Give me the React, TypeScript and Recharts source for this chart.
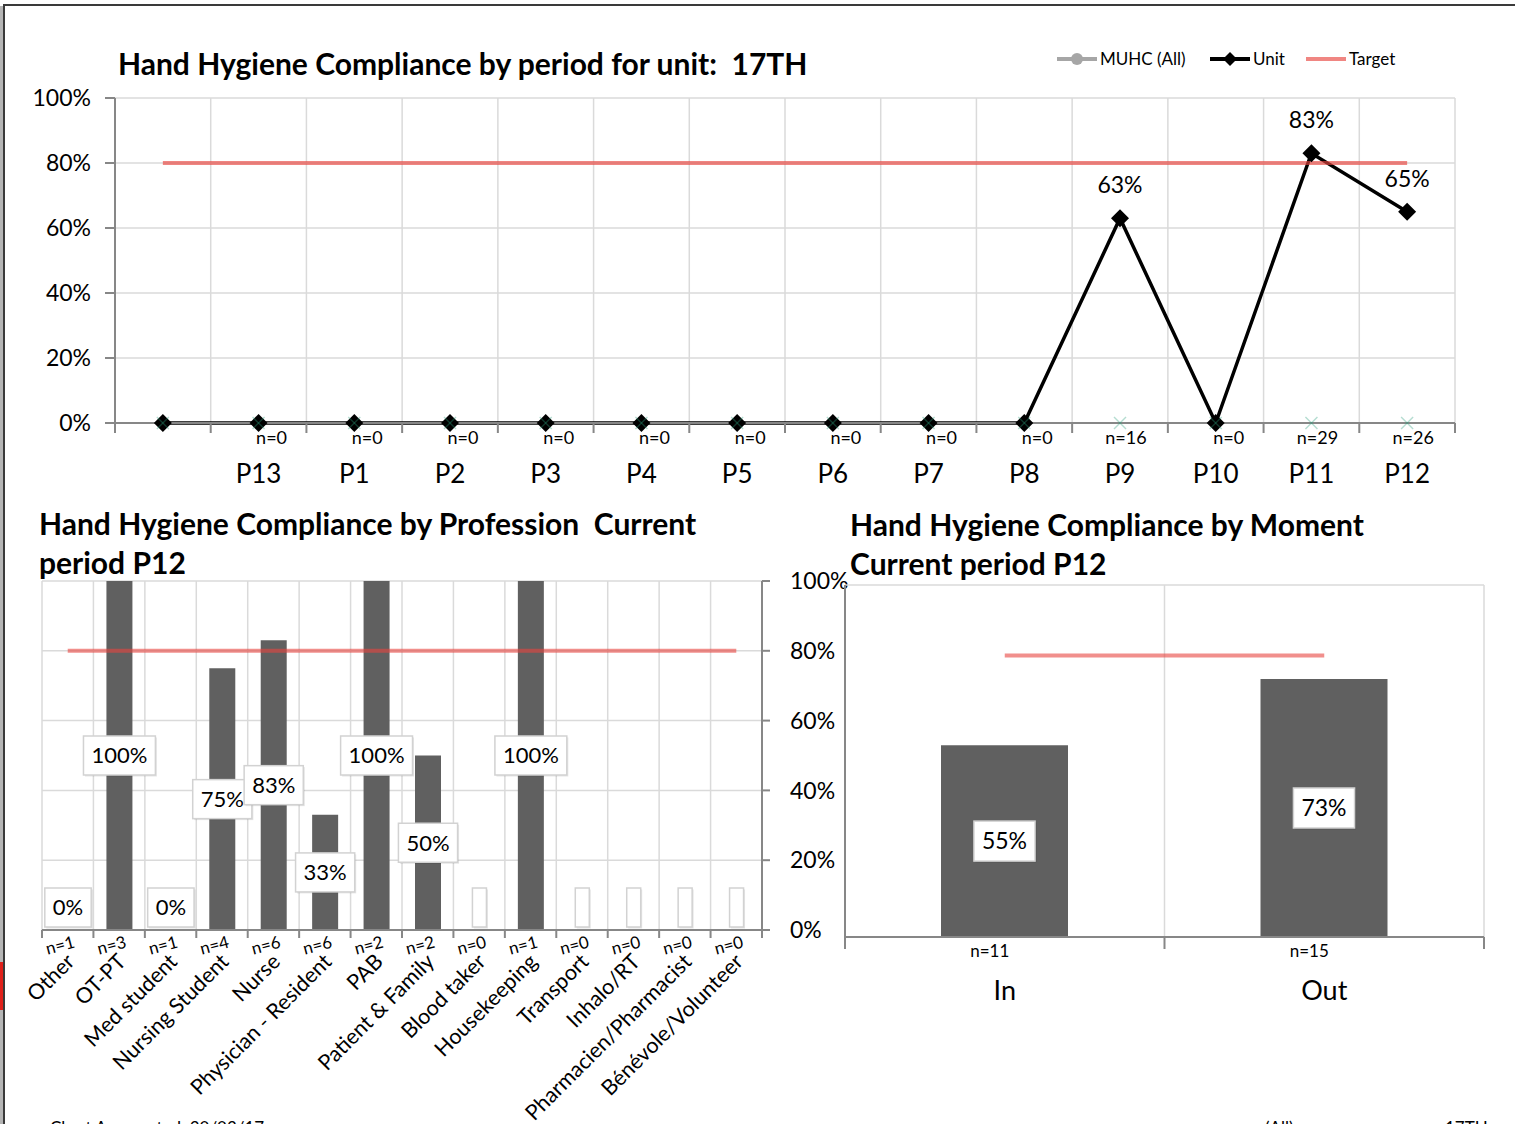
import {
  LineChart,
  ComposedChart,
  Line,
  Bar,
  XAxis,
  YAxis,
  CartesianGrid,
  LabelList,
} from 'recharts'

const FONT = 'Lato, "Open Sans", sans-serif'
const AXIS = '#878787'
const GRID = '#dadada'
const BAR = '#606060'
const TARGET = '#e8453f'

const PCT_TICKS = [0, 20, 40, 60, 80, 100]

// compliance by period
const PERIODS = ['', 'P13', 'P1', 'P2', 'P3', 'P4', 'P5', 'P6', 'P7', 'P8', 'P9', 'P10', 'P11', 'P12']
const UNIT_PCT = [0, 0, 0, 0, 0, 0, 0, 0, 0, 0, 63, 0, 83, 65]
const PERIOD_N: (number | null)[] = [null, 0, 0, 0, 0, 0, 0, 0, 0, 0, 16, 0, 29, 26]
const PERIOD_BASE = [0, 0, 0, 0, 0, 0, 0, 0, 0, 0, 0, 0, 0, 0]
const PERIOD_TARGET = [80, 80, 80, 80, 80, 80, 80, 80, 80, 80, 80, 80, 80, 80]

// compliance by profession, current period P12
const PROFESSIONS = [
  'Other',
  'OT-PT',
  'Med student',
  'Nursing Student',
  'Nurse',
  'Physician - Resident',
  'PAB',
  'Patient & Family',
  'Blood taker',
  'Housekeeping',
  'Transport',
  'Inhalo/RT',
  'Pharmacien/Pharmacist',
  'Bénévole/Volunteer',
]
const PROF_PCT: (number | null)[] = [0, 100, 0, 75, 83, 33, 100, 50, null, 100, null, null, null, null]
const PROF_N = [1, 3, 1, 4, 6, 6, 2, 2, 0, 1, 0, 0, 0, 0]
const PROF_TARGET = [80, 80, 80, 80, 80, 80, 80, 80, 80, 80, 80, 80, 80, 80]

// compliance by moment, current period P12
const MOMENTS = ['In', 'Out']
const MOMENT_PCT = [54.5, 73.3]
const MOMENT_N = [11, 15]
const MOMENT_TARGET = [80, 80]

// plot widths, used for the half-band tick marks
const TOP_HALF = 1340 / PERIODS.length / 2
const PROF_HALF = 720 / PROFESSIONS.length / 2
const MOMENT_HALF = 639 / MOMENTS.length / 2

const pct = (v: number) => `${v}%`

const bandLines = (count: number) => ({ offset }: any) => {
  const out: number[] = []
  for (let i = 0; i <= count; i++) out.push(offset.left + (offset.width * i) / count)
  return out
}

let measureCtx: CanvasRenderingContext2D | null = null
function textWidth(text: string, size: number) {
  if (!text) return 0
  if (!measureCtx) measureCtx = document.createElement('canvas').getContext('2d')
  if (!measureCtx) return text.length * size * 0.55
  measureCtx.font = `${size}px Lato`
  return measureCtx.measureText(text).width
}

function BoxLabel({ x, y, width, height, text, size }: any) {
  const bw = text ? textWidth(text, size) + 16 : 14
  const bh = size + 17
  const cx = x + width / 2
  const base = y + height
  const cy = height < bh + 6 ? base - 3 - bh / 2 : y + height / 2
  return (
    <g>
      <rect x={cx - bw / 2 + 1.5} y={cy - bh / 2 + 1.5} width={bw} height={bh} fill="#000" opacity={0.1} />
      <rect x={cx - bw / 2} y={cy - bh / 2} width={bw} height={bh} fill="#fff" stroke="#d2d2d2" strokeWidth={1.5} />
      {text && (
        <text x={cx} y={cy} dy="0.36em" textAnchor="middle" fontSize={size} fontFamily={FONT} fill="#000">
          {text}
        </text>
      )}
    </g>
  )
}

const readBox = (props: any) => {
  const vb = props.viewBox || {}
  return {
    x: props.x ?? vb.x,
    y: props.y ?? vb.y,
    width: props.width ?? vb.width ?? 0,
    height: props.height ?? vb.height ?? 0,
  }
}

function ProfLabel(props: any) {
  const v = PROF_PCT[props.index]
  return <BoxLabel {...readBox(props)} text={v == null ? '' : pct(v)} size={22} />
}

function MomentLabel(props: any) {
  return <BoxLabel {...readBox(props)} text={pct(Math.round(MOMENT_PCT[props.index]))} size={23} />
}

function UnitLabel(props: any) {
  const { x, y } = readBox(props)
  const v = UNIT_PCT[props.index]
  if (!v) return null
  return (
    <text x={x} y={y - 25} textAnchor="middle" fontSize={23} fontFamily={FONT} fill="#000">
      {pct(v)}
    </text>
  )
}

function Diamond({ cx, cy }: any) {
  if (cx == null || cy == null) return null
  const r = 9
  return <polygon points={`${cx},${cy - r} ${cx + r},${cy} ${cx},${cy + r} ${cx - r},${cy}`} fill="#000" />
}

function Cross({ cx, cy }: any) {
  if (cx == null || cy == null) return null
  const r = 6
  return (
    <g stroke="#2a9d7a" strokeOpacity={0.35} strokeWidth={1.4}>
      <line x1={cx - r} y1={cy - r} x2={cx + r} y2={cy + r} />
      <line x1={cx - r} y1={cy + r} x2={cx + r} y2={cy - r} />
    </g>
  )
}

function PeriodTick({ x, y, payload }: any) {
  const i = payload.index
  const n = PERIOD_N[i]
  return (
    <g fontFamily={FONT} fill="#000">
      <line x1={x - TOP_HALF} y1={y} x2={x - TOP_HALF} y2={y + 10} stroke={AXIS} strokeWidth={2} />
      {i === PERIODS.length - 1 && (
        <line x1={x + TOP_HALF} y1={y} x2={x + TOP_HALF} y2={y + 10} stroke={AXIS} strokeWidth={2} />
      )}
      {n !== null && (
        <text x={x + (n === 0 ? 13 : 6)} y={y + 21} textAnchor="middle" fontSize={18}>
          n={n}
        </text>
      )}
      <text x={x} y={y + 60} textAnchor="middle" fontSize={26}>
        {payload.value}
      </text>
    </g>
  )
}

function ProfTick({ x, y, payload }: any) {
  const i = payload.index
  const nx = x - 6
  const ny = y + 21
  const lx = x + 8
  const ly = y + 33
  return (
    <g fontFamily={FONT} fill="#000">
      <line x1={x - PROF_HALF} y1={y} x2={x - PROF_HALF} y2={y + 8} stroke={AXIS} strokeWidth={2} />
      {i === PROFESSIONS.length - 1 && (
        <line x1={x + PROF_HALF} y1={y} x2={x + PROF_HALF} y2={y + 8} stroke={AXIS} strokeWidth={2} />
      )}
      <text x={nx} y={ny} textAnchor="middle" fontSize={17} transform={`rotate(-15 ${nx} ${ny})`}>
        n={PROF_N[i]}
      </text>
      <text x={lx} y={ly} textAnchor="end" fontSize={21.5} transform={`rotate(-45 ${lx} ${ly})`}>
        {payload.value}
      </text>
    </g>
  )
}

function MomentTick({ x, y, payload }: any) {
  const i = payload.index
  return (
    <g fontFamily={FONT} fill="#000">
      <line x1={x - MOMENT_HALF} y1={y} x2={x - MOMENT_HALF} y2={y + 12} stroke={AXIS} strokeWidth={2} />
      {i === MOMENTS.length - 1 && (
        <line x1={x + MOMENT_HALF} y1={y} x2={x + MOMENT_HALF} y2={y + 12} stroke={AXIS} strokeWidth={2} />
      )}
      <text x={x - 15} y={y + 20} textAnchor="middle" fontSize={17}>
        n={MOMENT_N[i]}
      </text>
      <text x={x} y={y + 63} textAnchor="middle" fontSize={27}>
        {payload.value}
      </text>
    </g>
  )
}

function TopLegend() {
  return (
    <svg width={380} height={30} style={{ position: 'absolute', left: 1050, top: 45 }}>
      <g fontFamily={FONT} fontSize={17} fill="#000">
        <line x1={7} y1={14} x2={47} y2={14} stroke="#a6a6a6" strokeWidth={4} />
        <circle cx={27} cy={14} r={6} fill="#a6a6a6" />
        <text x={50} y={20}>MUHC (All)</text>
        <line x1={160} y1={14} x2={200} y2={14} stroke="#000" strokeWidth={4} />
        <polygon points="180,7 187,14 180,21 173,14" fill="#000" />
        <text x={203} y={20}>Unit</text>
        <line x1={256} y1={14} x2={296} y2={14} stroke={TARGET} strokeOpacity={0.65} strokeWidth={4} />
        <text x={299} y={20}>Target</text>
      </g>
    </svg>
  )
}

const titleStyle = {
  position: 'absolute' as const,
  fontFamily: FONT,
  fontWeight: 700,
  fontSize: 30,
  lineHeight: '39px',
  color: '#000',
  whiteSpace: 'pre' as const,
}

const tickText = { fill: '#000', fontSize: 23, fontFamily: FONT }
const axisLine = { stroke: AXIS, strokeWidth: 2 }

export default function App() {
  const periodRows = PERIODS.map((period, i) => ({
    period,
    unit: UNIT_PCT[i],
    base: PERIOD_BASE[i],
    target: PERIOD_TARGET[i],
  }))
  const profRows = PROFESSIONS.map((name, i) => ({
    name,
    pct: PROF_PCT[i] ?? 0,
    target: PROF_TARGET[i],
  }))
  const momentRows = MOMENTS.map((name, i) => ({
    name,
    pct: MOMENT_PCT[i],
    target: MOMENT_TARGET[i],
  }))

  return (
    <div style={{ position: 'relative', width: 1515, height: 1124, overflow: 'hidden', background: '#fff' }}>
      <style>{'body{margin:0}'}</style>

      {/* page frame */}
      <div style={{ position: 'absolute', left: 0, top: 6, width: 3, height: 1118, background: '#b5b5b5' }} />
      <div style={{ position: 'absolute', left: 0, top: 962, width: 3, height: 48, background: '#e0201a' }} />
      <div
        style={{
          position: 'absolute',
          left: 3,
          top: 4,
          width: 1512,
          height: 1120,
          borderLeft: '2px solid #3a3a3a',
          borderTop: '2px solid #3a3a3a',
        }}
      />

      {/* by period */}
      <div style={{ position: 'absolute', left: 0, top: 0 }}>
        <LineChart width={1480} height={500} data={periodRows} margin={{ top: 98, right: 25, bottom: 17, left: 0 }}>
          <CartesianGrid stroke={GRID} strokeWidth={1.5} verticalCoordinatesGenerator={bandLines(PERIODS.length)} />
          <XAxis
            dataKey="period"
            interval={0}
            height={60}
            padding={{ left: TOP_HALF, right: TOP_HALF }}
            tickLine={false}
            tickSize={0}
            tickMargin={0}
            axisLine={axisLine}
            tick={(p: any) => <PeriodTick {...p} />}
          />
          <YAxis
            width={115}
            domain={[0, 100]}
            ticks={PCT_TICKS}
            tickFormatter={pct}
            tickSize={10}
            tickMargin={14}
            axisLine={axisLine}
            tickLine={axisLine}
            tick={tickText}
          />
          <Line
            dataKey="unit"
            stroke="#000"
            strokeWidth={3.5}
            dot={(p: any) => <Diamond key={`d${p.index}`} {...p} />}
            activeDot={false}
            isAnimationActive={false}
          >
            <LabelList dataKey="unit" content={UnitLabel} />
          </Line>
          <Line
            dataKey="target"
            stroke={TARGET}
            strokeOpacity={0.65}
            strokeWidth={4}
            dot={false}
            activeDot={false}
            isAnimationActive={false}
          />
          <Line
            dataKey="base"
            stroke="none"
            dot={(p: any) => <Cross key={`c${p.index}`} {...p} />}
            activeDot={false}
            isAnimationActive={false}
          />
        </LineChart>
      </div>
      <div style={{ ...titleStyle, left: 118, top: 44 }}>{'Hand Hygiene Compliance by period for unit:  17TH'}</div>
      <TopLegend />

      {/* by profession */}
      <div style={{ position: 'absolute', left: 0, top: 560 }}>
        <ComposedChart width={860} height={564} data={profRows} margin={{ top: 21, right: 0, bottom: 0, left: 42 }}>
          <CartesianGrid stroke={GRID} strokeWidth={1.5} verticalCoordinatesGenerator={bandLines(PROFESSIONS.length)} />
          <XAxis
            dataKey="name"
            interval={0}
            height={194}
            tickLine={false}
            tickSize={0}
            tickMargin={0}
            axisLine={axisLine}
            tick={(p: any) => <ProfTick {...p} />}
          />
          <YAxis
            orientation="right"
            width={98}
            domain={[0, 100]}
            ticks={PCT_TICKS}
            tickFormatter={pct}
            tickSize={8}
            tickMargin={20}
            axisLine={axisLine}
            tickLine={axisLine}
            tick={tickText}
          />
          <Bar dataKey="pct" fill={BAR} barSize={26} minPointSize={0.5} isAnimationActive={false}>
            <LabelList dataKey="pct" content={ProfLabel} />
          </Bar>
          <Line
            dataKey="target"
            stroke={TARGET}
            strokeOpacity={0.6}
            strokeWidth={4}
            dot={false}
            activeDot={false}
            isAnimationActive={false}
          />
        </ComposedChart>
      </div>
      <div style={{ ...titleStyle, left: 39, top: 504 }}>
        {'Hand Hygiene Compliance by Profession  Current\nperiod P12'}
      </div>

      {/* by moment */}
      <div style={{ position: 'absolute', left: 780, top: 560 }}>
        <ComposedChart width={720} height={460} data={momentRows} margin={{ top: 25, right: 16, bottom: 0, left: 0 }}>
          <CartesianGrid stroke={GRID} strokeWidth={1.5} verticalCoordinatesGenerator={bandLines(MOMENTS.length)} />
          <XAxis
            dataKey="name"
            interval={0}
            height={83}
            tickLine={false}
            tickSize={0}
            tickMargin={0}
            axisLine={axisLine}
            tick={(p: any) => <MomentTick {...p} />}
          />
          <YAxis
            width={65}
            domain={[0, 100]}
            ticks={PCT_TICKS}
            tick={false}
            tickSize={7}
            axisLine={axisLine}
            tickLine={axisLine}
          />
          <Bar dataKey="pct" fill={BAR} barSize={127} isAnimationActive={false}>
            <LabelList dataKey="pct" content={MomentLabel} />
          </Bar>
          <Line
            dataKey="target"
            stroke={TARGET}
            strokeOpacity={0.6}
            strokeWidth={4}
            dot={false}
            activeDot={false}
            isAnimationActive={false}
          />
        </ComposedChart>
      </div>
      <div style={{ ...titleStyle, left: 850, top: 505 }}>{'Hand Hygiene Compliance by Moment\nCurrent period P12'}</div>

      {/* footer, cut off by the page edge */}
      <div style={{ position: 'absolute', left: 50, top: 1117, fontFamily: FONT, fontSize: 17 }}>
        Chart Aggregated: 30/03/17
      </div>
      <div style={{ position: 'absolute', left: 1265, top: 1117, fontFamily: FONT, fontSize: 17 }}>(All)</div>
      <div style={{ position: 'absolute', left: 1445, top: 1117, fontFamily: FONT, fontSize: 17 }}>17TH</div>
    </div>
  )
}
